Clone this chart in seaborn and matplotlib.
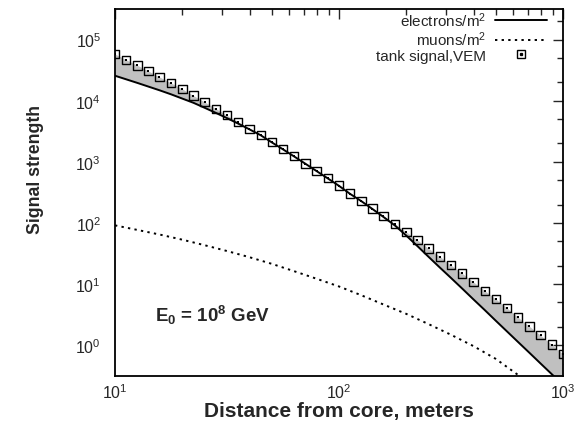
import numpy as np
import pandas as pd
import matplotlib
matplotlib.use("Agg")
import matplotlib.pyplot as plt
import seaborn as sns
from matplotlib.lines import Line2D
from matplotlib.legend_handler import HandlerTuple
from matplotlib.ticker import LogLocator, NullFormatter

# ---- data ----
distance = [10, 11.2, 12.6, 14.1, 15.8, 17.8, 20, 22.4, 25.1, 28.2,
            31.6, 35.5, 39.8, 44.7, 50.1, 56.2, 63.1, 70.8, 79.4, 89.1,
            100, 112, 126, 141, 158, 178, 200, 224, 251, 282,
            316, 355, 398, 447, 501, 562, 631, 708, 794, 891, 1000]
tank_vem = [57900, 46800, 37800, 30500, 24400, 19500, 15500, 12100, 9530, 7400,
            5770, 4490, 3480, 2720, 2090, 1610, 1230, 935, 710, 540,
            408, 302, 230, 172, 129, 95.5, 70.8, 52.4, 38.2, 28.2,
            20.4, 14.9, 10.8, 7.78, 5.69, 4.06, 2.84, 2.03, 1.45, 1.02, 0.72]
electrons = [25600, 22400, 19500, 17000, 14800, 12700, 10800, 9230, 7670, 6310,
             5190, 4210, 3400, 2720, 2080, 1600, 1220, 929, 705, 535,
             404, 299, 226, 169, 125, 90.2, 61.7, 41.7, 27.9, 18.6,
             12.6, 8.41, 5.62, 3.76, 2.51, 1.68, 1.12, 0.750, 0.501, 0.335, 0.224]
muon_distance = [10, 12.6, 15.8, 20, 25.1, 31.6, 39.8, 50.1, 63.1, 79.4,
                 100, 126, 158, 200, 251, 316, 398, 501, 631, 794]
muons = [91.2, 76.7, 64.6, 53.1, 43.2, 34.7, 27.5, 21.4, 16.2, 12.2,
         9.12, 6.53, 4.62, 3.24, 2.21, 1.48, 0.966, 0.596, 0.324, 0.178]

x_ticks = [10, 100, 1000]
x_ticklabels = ["10$^1$", "10$^2$", "10$^3$"]
y_ticks = [1, 10, 100, 1000, 10000, 100000]
y_ticklabels = ["10$^0$", "10$^1$", "10$^2$", "10$^3$", "10$^4$", "10$^5$"]

df_e = pd.DataFrame({"distance": distance, "value": electrons})
df_t = pd.DataFrame({"distance": distance, "value": tank_vem})
df_m = pd.DataFrame({"distance": muon_distance, "value": muons})

sns.set_style("white")
plt.rcParams["font.family"] = ["Liberation Sans", "DejaVu Sans"]
plt.rcParams["mathtext.fontset"] = "custom"
plt.rcParams["mathtext.rm"] = "Liberation Sans"
plt.rcParams["mathtext.it"] = "Liberation Sans:italic"
plt.rcParams["mathtext.bf"] = "Liberation Sans:bold"

fig = plt.figure(figsize=(5.74, 4.31), dpi=100)
ax = fig.add_axes([115/574, 1 - 376.7/431, 448/574, 366.7/431])

ax.fill_between(distance, electrons, tank_vem, color="#c0c0c0", lw=0, zorder=1)
sns.lineplot(data=df_e, x="distance", y="value", ax=ax, color="black", lw=1.4, zorder=3)
sns.lineplot(data=df_m, x="distance", y="value", ax=ax, color="black", lw=1.4,
             linestyle=(0, (1.2, 2.2)), zorder=3)
sns.scatterplot(data=df_t, x="distance", y="value", ax=ax, marker="s", s=36,
                facecolor="none", edgecolor="black", linewidth=1.0, zorder=4)
sns.scatterplot(data=df_t, x="distance", y="value", ax=ax, marker="s", s=2,
                color="black", linewidth=0, zorder=5)

ax.set_xscale("log")
ax.set_yscale("log")
ax.set_xlim(10, 1000)
ax.set_ylim(10**-0.5, 10**5.5)
ax.set_xticks(x_ticks)
ax.set_xticklabels(x_ticklabels)
ax.set_yticks(y_ticks)
ax.set_yticklabels(y_ticklabels)
ax.xaxis.set_minor_locator(LogLocator(base=10, subs=[2, 3, 4, 5, 6, 7, 8, 9]))
ax.yaxis.set_minor_locator(LogLocator(base=10, subs=[2, 5]))
ax.xaxis.set_minor_formatter(NullFormatter())
ax.yaxis.set_minor_formatter(NullFormatter())
ax.tick_params(which="both", direction="in", top=True, right=True, width=1.0)
ax.tick_params(which="major", length=7, labelsize=11.5)
ax.tick_params(which="minor", length=4)
ax.tick_params(axis="y", which="major", pad=10)
ax.tick_params(axis="x", which="major", pad=5)
for s in ax.spines.values():
    s.set_linewidth(1.3)
    s.set_color("black")

ax.set_xlabel("")
ax.set_ylabel("")
fig.text(339/574, 1 - 412/431, "Distance from core, meters", ha="center", va="center",
         fontsize=15, fontweight="bold")
fig.text(35/574, 1 - 169/431, "Signal strength", ha="center", va="center",
         rotation=90, fontsize=12.7, fontweight="bold")

ax.text(0.089, 0.167, r"E$_\mathbf{0}$ = 10$^\mathbf{8}$ GeV", transform=ax.transAxes,
        ha="left", va="center", fontsize=13.5, fontweight="bold")

h_e = Line2D([], [], color="black", lw=1.4)
h_m = Line2D([], [], color="black", lw=1.4, linestyle=(0, (1.2, 2.2)))
h_t1 = Line2D([], [], marker="s", markersize=6, markerfacecolor="none",
              markeredgecolor="black", markeredgewidth=1.0, linestyle="none")
h_t2 = Line2D([], [], marker="s", markersize=1.4, color="black", linestyle="none")
leg = ax.legend([h_e, h_m, (h_t1, h_t2)],
                ["electrons/m$^2$", "muons/m$^2$", "tank signal,VEM"],
                handler_map={tuple: HandlerTuple(ndivide=1, pad=0)},
                loc="upper right", bbox_to_anchor=(0.985, 1.022), frameon=False,
                markerfirst=False, fontsize=11, handlelength=3.4, handletextpad=0.6,
                labelspacing=0.05, borderaxespad=0.2)

fig.savefig("out.png", dpi=100)
